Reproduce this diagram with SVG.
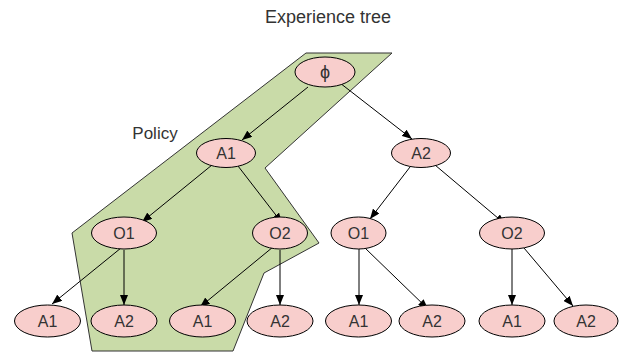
<svg xmlns="http://www.w3.org/2000/svg" width="624" height="352" viewBox="0 0 624 352">
<style>
.n ellipse{fill:#f8cecc;stroke:#000;stroke-width:1}
.n text,.lbl{font-family:"Liberation Sans",Arial,sans-serif;fill:#333;text-anchor:middle}
.n text{font-size:16px}
.e line{stroke:#000;stroke-width:1;marker-end:url(#ah)}
</style>
<defs>
<marker id="ah" viewBox="0 0 10 8" refX="10" refY="4" markerWidth="10" markerHeight="8" markerUnits="userSpaceOnUse" orient="auto">
<path d="M0,0 L10,4 L0,8 Z" fill="#000"/>
</marker>
</defs>
<rect width="624" height="352" fill="#fff"/>
<g id="policy-region">
<polygon points="306,53 392,53 265,168 319,243 264,273 233,351 92,351 72,233" fill="#c9dba8" stroke="#333" stroke-width="1"/>
</g>
<text class="lbl" x="328" y="23" font-size="18">Experience tree</text>
<text class="lbl" x="155" y="139" font-size="17">Policy</text>
<g class="e" id="connectors">
<line x1="308" y1="87" x2="242" y2="140"/>
<line x1="340" y1="83" x2="412" y2="139"/>
<line x1="212" y1="165" x2="142" y2="222"/>
<line x1="238" y1="166" x2="282" y2="223"/>
<line x1="410" y1="167" x2="370" y2="219"/>
<line x1="435" y1="165" x2="505" y2="224"/>
<line x1="121" y1="248" x2="52" y2="304"/>
<line x1="124" y1="250" x2="124" y2="305"/>
<line x1="273" y1="247" x2="200" y2="307"/>
<line x1="280" y1="250" x2="280" y2="305"/>
<line x1="359" y1="249" x2="359" y2="305"/>
<line x1="365" y1="248" x2="428" y2="309"/>
<line x1="512" y1="249" x2="512" y2="305"/>
<line x1="524" y1="248" x2="573" y2="306"/>
</g>
<g class="n" id="root"><ellipse cx="325" cy="72" rx="30" ry="15"/><text x="325" y="78" style="font-size:18px">ϕ</text></g>
<g class="n" id="a1"><ellipse cx="226" cy="153" rx="29.5" ry="14.5"/><text x="226" y="158.5">A1</text></g>
<g class="n" id="a2"><ellipse cx="421" cy="153" rx="29.5" ry="14.5"/><text x="421" y="158.5">A2</text></g>
<g class="n" id="a1-o1"><ellipse cx="124" cy="233" rx="32.5" ry="16"/><text x="124" y="238.5">O1</text></g>
<g class="n" id="a1-o2"><ellipse cx="280" cy="233" rx="27.5" ry="16"/><text x="280" y="238.5">O2</text></g>
<g class="n" id="a2-o1"><ellipse cx="358.5" cy="233" rx="27.5" ry="16"/><text x="358.5" y="238.5">O1</text></g>
<g class="n" id="a2-o2"><ellipse cx="512" cy="233" rx="32.5" ry="16"/><text x="512" y="238.5">O2</text></g>
<g class="n" id="l1"><ellipse cx="47.5" cy="321" rx="33" ry="16"/><text x="47.5" y="326.5">A1</text></g>
<g class="n" id="l2"><ellipse cx="124" cy="321" rx="33" ry="16"/><text x="124" y="326.5">A2</text></g>
<g class="n" id="l3"><ellipse cx="202.5" cy="321" rx="33" ry="16"/><text x="202.5" y="326.5">A1</text></g>
<g class="n" id="l4"><ellipse cx="280" cy="321" rx="33" ry="16"/><text x="280" y="326.5">A2</text></g>
<g class="n" id="l5"><ellipse cx="358.5" cy="321" rx="33" ry="16"/><text x="358.5" y="326.5">A1</text></g>
<g class="n" id="l6"><ellipse cx="432" cy="321" rx="33" ry="16"/><text x="432" y="326.5">A2</text></g>
<g class="n" id="l7"><ellipse cx="512" cy="321" rx="33" ry="16"/><text x="512" y="326.5">A1</text></g>
<g class="n" id="l8"><ellipse cx="586" cy="321" rx="32" ry="16"/><text x="586" y="326.5">A2</text></g>
</svg>
